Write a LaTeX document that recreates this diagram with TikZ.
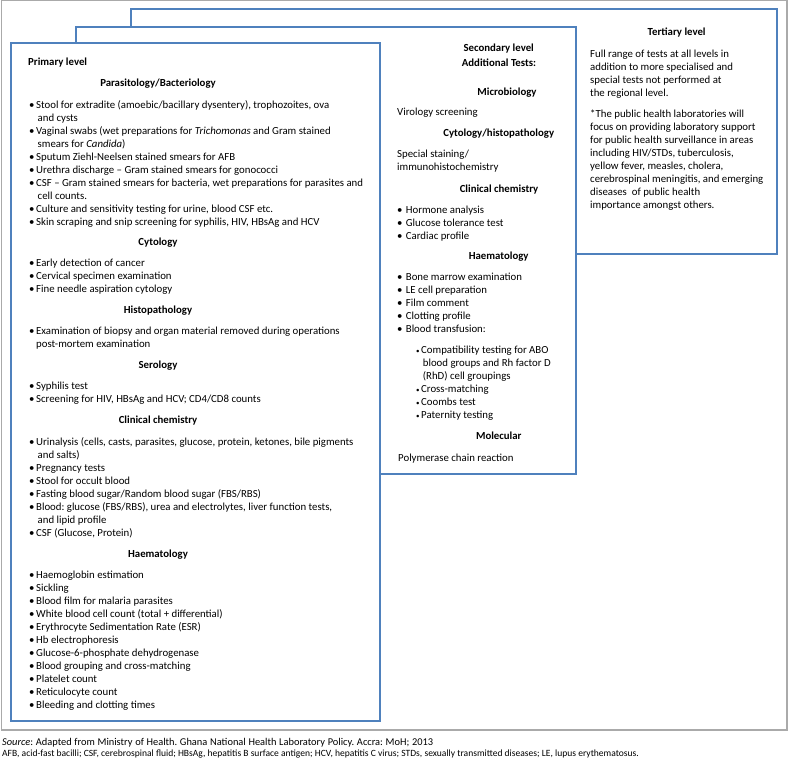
\documentclass[tikz,border=0pt]{standalone}
\usepackage{fontspec}
\setmainfont{Carlito}
\usepackage{tikz}
\usetikzlibrary{positioning}
\frenchspacing
\definecolor{levelblue}{RGB}{79,129,189}
\definecolor{framegray}{RGB}{170,170,170}
\tikzset{levelbox/.style={draw=levelblue,line width=1.5pt,fill=white},
         heading/.style={anchor=base,inner sep=0pt,font=\fontsize{10.8}{13}\selectfont\bfseries},
         oneline/.style={anchor=base west,inner sep=0pt,font=\fontsize{10.8}{13}\selectfont},
         lines/.style={anchor=north west,align=left,inner sep=0pt,font=\fontsize{10.8}{13}\selectfont,
                       execute at begin node=\strut},
         note/.style={anchor=base west,inner sep=0pt,font=\fontsize{9.55}{11.5}\selectfont}}
\newcommand{\itm}[1][7pt]{\makebox[#1][l]{\textbullet}}
\newcommand{\subitm}{\makebox[5pt][l]{\scriptsize\textbullet}}
\newcommand{\cnt}[1][8.5pt]{\hspace*{#1}}

\begin{document}
\begin{tikzpicture}[x=1pt,y=-1pt]
  \useasboundingbox (0,0) rectangle (788,760);
  \draw[framegray,line width=1.2pt] (1.5,0.8) rectangle (787,730);
  \draw[levelbox] (131,9) rectangle (777,254);
  \draw[levelbox] (76,27) rectangle (576,474);
  \draw[levelbox] (11,43) rectangle (380,721);

  \node[heading] (tertiary) at (676.7,36) {Tertiary level};
  \node[lines] (fullrange) at (590,49.4) {Full range of tests at all levels in\\
    addition to more specialised and\\
    special tests not performed at\\
    the regional level.};
  \node[lines] (publichealth) at (590,110) {*The public health laboratories will\\
    focus on providing laboratory support\\
    for public health surveillance in areas\\
    including HIV/STDs, tuberculosis,\\
    yellow fever, measles, cholera,\\
    cerebrospinal meningitis, and emerging\\
    diseases\ \ of public health\\
    importance amongst others.};

  \node[heading] (secondary) at (498.7,51.2) {Secondary level};
  \node[heading] (additional) at (499,66.2) {Additional Tests:};
  \node[heading] (micro) at (507,95.2) {Microbiology};
  \node[oneline] (virology) at (397,116) {Virology screening};
  \node[heading] (cytohisto) at (498.7,136.8) {Cytology/histopathology};
  \node[lines] (staining) at (397,150) {Special staining/\\immunohistochemistry};
  \node[heading] (secchem) at (499,192.2) {Clinical chemistry};
  \node[lines] (secchemlist) at (397,205.4) {\itm[8.7pt]Hormone analysis\\
    \itm[8.7pt]Glucose tolerance test\\
    \itm[8.7pt]Cardiac profile};
  \node[heading] (sechaem) at (498.7,259.5) {Haematology};
  \node[lines] (sechaemlist) at (397,272.7) {\itm[8.7pt]Bone marrow examination\\
    \itm[8.7pt]LE cell preparation\\
    \itm[8.7pt]Film comment\\
    \itm[8.7pt]Clotting profile\\
    \itm[8.7pt]Blood transfusion:};
  \node[lines] (transfusion) at (416,346) {\subitm Compatibility testing for ABO\\
    \cnt[6.7pt]blood groups and Rh factor D\\
    \cnt[6.7pt](RhD) cell groupings\\
    \subitm Cross-matching\\
    \subitm Coombs test\\
    \subitm Paternity testing};
  \node[heading] (molecular) at (498.8,439.5) {Molecular};
  \node[oneline] (pcr) at (398,461.7) {Polymerase chain reaction};

  \node[oneline,font=\fontsize{10.8}{13}\selectfont\bfseries] (primary) at (28,65.2) {Primary level};
  \node[heading] (parasito) at (158,86.2) {Parasitology/Bacteriology};
  \node[lines] (parasitolist) at (29,100) {\itm Stool for extradite (amoebic/bacillary dysentery), trophozoites, ova\\
    \cnt and cysts\\
    \itm Vaginal swabs (wet preparations for \textit{Trichomonas} and Gram stained\\
    \cnt smears for \textit{Candida})\\
    \itm Sputum Ziehl-Neelsen stained smears for AFB\\
    \itm Urethra discharge -- Gram stained smears for gonococci\\
    \itm CSF -- Gram stained smears for bacteria, wet preparations for parasites and\\
    \cnt cell counts.\\
    \itm Culture and sensitivity testing for urine, blood CSF etc.\\
    \itm Skin scraping and snip screening for syphilis, HIV, HBsAg and HCV};
  \node[heading] (cytology) at (158,245.2) {Cytology};
  \node[lines] (cytolist) at (29,258.4) {\itm Early detection of cancer\\
    \itm Cervical specimen examination\\
    \itm Fine needle aspiration cytology};
  \node[heading] (histo) at (158,313.5) {Histopathology};
  \node[lines] (histolist) at (29,326.7) {\itm Examination of biopsy and organ material removed during operations\\
    \cnt[7pt]post-mortem examination};
  \node[heading] (serology) at (158,368.5) {Serology};
  \node[lines] (serolist) at (29,381.7) {\itm Syphilis test\\
    \itm Screening for HIV, HBsAg and HCV; CD4/CD8 counts};
  \node[heading] (primchem) at (158,423.8) {Clinical chemistry};
  \node[lines] (primchemlist) at (29,437.4) {\itm Urinalysis (cells, casts, parasites, glucose, protein, ketones, bile pigments\\
    \cnt and salts)\\
    \itm Pregnancy tests\\
    \itm Stool for occult blood\\
    \itm Fasting blood sugar/Random blood sugar (FBS/RBS)\\
    \itm Blood: glucose (FBS/RBS), urea and electrolytes, liver function tests,\\
    \cnt and lipid profile\\
    \itm CSF (Glucose, Protein)};
  \node[heading] (primhaem) at (158,557.2) {Haematology};
  \node[lines] (primhaemlist) at (29,570.5) {\itm Haemoglobin estimation\\
    \itm Sickling\\
    \itm Blood film for malaria parasites\\
    \itm White blood cell count (total + differential)\\
    \itm Erythrocyte Sedimentation Rate (ESR)\\
    \itm Hb electrophoresis\\
    \itm Glucose-6-phosphate dehydrogenase\\
    \itm Blood grouping and cross-matching\\
    \itm Platelet count\\
    \itm Reticulocyte count\\
    \itm Bleeding and clotting times};

  \node[note] (source) at (2,745) {\fontsize{10.4}{12}\selectfont\makebox[431pt][s]{\textit{Source}: Adapted from Ministry of Health. Ghana National Health Laboratory Policy. Accra: MoH; 2013}};
  \node[note] (abbrev) at (2,756.5) {AFB, acid-fast bacilli; CSF, cerebrospinal fluid; HBsAg, hepatitis B surface antigen; HCV, hepatitis C virus; STDs, sexually transmitted diseases; LE, lupus erythematosus.};
\end{tikzpicture}
\end{document}
